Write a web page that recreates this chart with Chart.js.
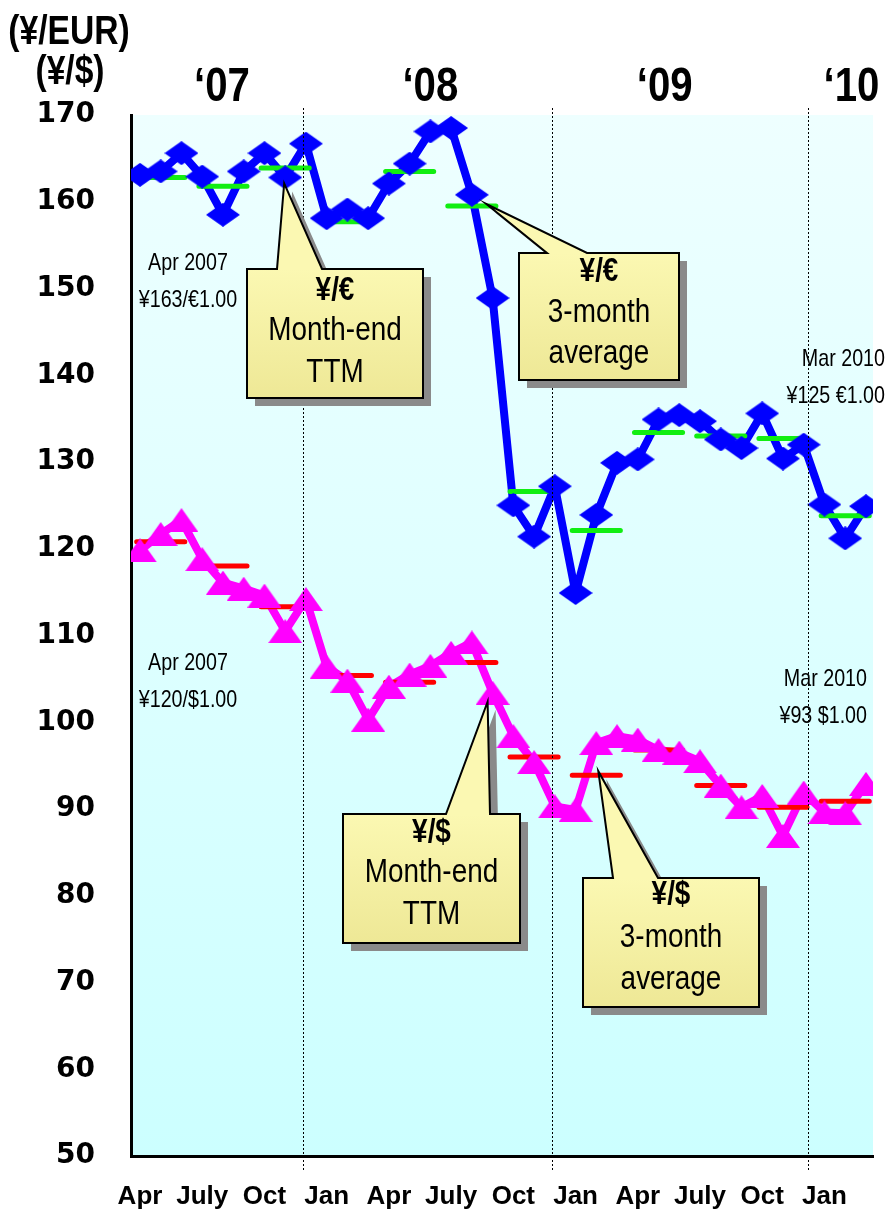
<!DOCTYPE html>
<html>
<head>
<meta charset="utf-8">
<script src="https://cdn.jsdelivr.net/npm/chart.js@4.4.1/dist/chart.umd.min.js"></script>
<style>
  html, body { margin: 0; padding: 0; background: #fff; }
  canvas { display: block; }
</style>
</head>
<body>
<canvas id="fxChart" width="889" height="1210"></canvas>
<script>
(() => {
  'use strict'

  // Month-end rates, Apr 2007 .. Mar 2010
  const months = [
    'Apr 2007', 'May 2007', 'Jun 2007', 'Jul 2007', 'Aug 2007', 'Sep 2007',
    'Oct 2007', 'Nov 2007', 'Dec 2007', 'Jan 2008', 'Feb 2008', 'Mar 2008',
    'Apr 2008', 'May 2008', 'Jun 2008', 'Jul 2008', 'Aug 2008', 'Sep 2008',
    'Oct 2008', 'Nov 2008', 'Dec 2008', 'Jan 2009', 'Feb 2009', 'Mar 2009',
    'Apr 2009', 'May 2009', 'Jun 2009', 'Jul 2009', 'Aug 2009', 'Sep 2009',
    'Oct 2009', 'Nov 2009', 'Dec 2009', 'Jan 2010', 'Feb 2010', 'Mar 2010'
  ]
  const eurMonthEnd = [
    163.1, 163.5, 165.6, 162.9, 158.5, 163.5, 165.6, 162.8, 166.7,
    158.1, 159.1, 158.1, 162.1, 164.4, 168.1, 168.5, 160.8, 148.9,
    125.0, 121.4, 127.2, 114.9, 123.9, 129.9, 130.3, 134.9, 135.4,
    134.7, 132.6, 131.6, 135.6, 130.4, 132.0, 125.1, 121.2, 124.9
  ]
  const usdMonthEnd = [
    119.8, 121.7, 123.3, 118.8, 116.1, 115.4, 114.6, 110.5, 114.2,
    106.4, 104.8, 100.3, 104.1, 105.5, 106.5, 108.0, 109.2, 103.4,
    98.4, 95.4, 90.3, 89.9, 97.6, 98.4, 98.0, 96.8, 96.5,
    95.5, 92.7, 90.2, 91.5, 86.9, 91.9, 89.6, 89.5, 92.9
  ]

  // 3-month averages, one per quarter (Apr-Jun 2007 .. Jan-Mar 2010)
  const quarters = [
    'Apr-Jun 07', 'Jul-Sep 07', 'Oct-Dec 07', 'Jan-Mar 08', 'Apr-Jun 08', 'Jul-Sep 08',
    'Oct-Dec 08', 'Jan-Mar 09', 'Apr-Jun 09', 'Jul-Sep 09', 'Oct-Dec 09', 'Jan-Mar 10'
  ]
  const eurQuarterAvg = [162.8, 161.8, 163.9, 157.7, 163.5, 159.5, 126.6, 122.1, 133.4, 133.0, 132.7, 123.8]
  const usdQuarterAvg = [120.8, 118.0, 113.3, 105.4, 104.6, 106.9, 96.0, 93.9, 96.8, 92.7, 90.2, 90.9]

  const tickLabels = ['Apr', 'July', 'Oct', 'Jan', 'Apr', 'July', 'Oct', 'Jan', 'Apr', 'July', 'Oct', 'Jan']
  const yearLabels = ['\u201807', '\u201808', '\u201809', '\u201810']

  const SANS = '"Liberation Sans", Arial, sans-serif'

  // no narrow face installed: squeeze Liberation Sans horizontally instead
  function narrowText(ctx, text, x, y, font, align) {
    ctx.save()
    ctx.font = font
    ctx.textAlign = align || 'center'
    ctx.textBaseline = 'middle'
    ctx.fillStyle = '#000'
    ctx.translate(x, y)
    ctx.scale(0.82, 1)
    ctx.fillText(text, 0, 0)
    ctx.restore()
  }

  // markers: flat diamond and triangle, as in the original
  function marker(w, h, color, kind) {
    const c = document.createElement('canvas')
    c.width = w
    c.height = h
    const g = c.getContext('2d')
    g.fillStyle = color
    g.beginPath()
    if (kind === 'diamond') {
      g.moveTo(w / 2, 0); g.lineTo(w, h / 2); g.lineTo(w / 2, h); g.lineTo(0, h / 2)
    } else {
      g.moveTo(w / 2, 0); g.lineTo(w, h); g.lineTo(0, h)
    }
    g.closePath()
    g.fill()
    return c
  }
  const diamond = marker(34, 24, '#0000ff', 'diamond')
  const triangle = marker(34, 24, '#ff00ff', 'triangle')

  const series = vals => months.map((m, i) => ({ x: i, y: vals[i] }))
  // each quarter's average is a short bar centred on its middle month
  const dashes = vals => quarters.flatMap((q, k) => [
    { x: 3 * k + 1 - 1.16, y: vals[k] },
    { x: 3 * k + 1 + 1.16, y: vals[k] },
    { x: 3 * k + 2.5, y: null }
  ])

  const lineSet = (data, color) => ({
    data, borderColor: color, borderWidth: 8, pointRadius: 0, borderJoinStyle: 'round', order: 3
  })
  const markSet = (data, style) => ({
    data, showLine: false, pointStyle: style, pointRadius: 12, order: 1
  })
  const dashSet = (data, color) => ({
    data, borderColor: color, borderWidth: 5, borderCapStyle: 'round', pointRadius: 0, spanGaps: false, order: 2
  })

  const yearBreaks = [7.85, 19.85, 32.2]
  const yearPos = [3.95, 14.0, 25.3, 34.3]

  const decorations = {
    id: 'decorations',
    beforeDraw(chart) {
      const { ctx, chartArea: a } = chart
      ctx.save()
      ctx.fillStyle = '#fff'
      ctx.fillRect(0, 0, chart.width, chart.height)
      const grad = ctx.createLinearGradient(0, a.top, 0, a.bottom)
      grad.addColorStop(0, '#eeffff')
      grad.addColorStop(1, '#ccffff')
      ctx.fillStyle = grad
      ctx.fillRect(a.left, a.top, a.right - a.left, a.bottom - a.top)
      ctx.restore()
    },
    afterDatasetsDraw(chart) {
      const { ctx, scales: { x } } = chart
      ctx.save()
      ctx.strokeStyle = '#000'
      ctx.lineWidth = 1
      ctx.setLineDash([2, 2])
      yearBreaks.forEach(b => {
        const px = Math.round(x.getPixelForValue(b)) + 0.5
        ctx.beginPath()
        ctx.moveTo(px, 108)
        ctx.lineTo(px, 1170)
        ctx.stroke()
      })
      ctx.restore()
    },
    afterDraw(chart) {
      const { ctx, scales: { x, y } } = chart

      // axis titles and year labels
      narrowText(ctx, '(\u00a5/EUR)', 69, 33, 'bold 41px ' + SANS)
      narrowText(ctx, '(\u00a5/$)', 70, 73, 'bold 41px ' + SANS)
      yearLabels.forEach((t, k) => narrowText(ctx, t, x.getPixelForValue(yearPos[k]), 87, 'bold 49px ' + SANS))

      // end-point notes
      const note = '24px ' + SANS
      narrowText(ctx, 'Apr 2007', 188, 263, note)
      narrowText(ctx, '\u00a5163/\u20ac1.00', 188, 300, note)
      narrowText(ctx, 'Apr 2007', 188, 663, note)
      narrowText(ctx, '\u00a5120/$1.00', 188, 700, note)
      narrowText(ctx, 'Mar 2010', 885, 359, note, 'right')
      narrowText(ctx, '\u00a5125 \u20ac1.00', 885, 396, note, 'right')
      narrowText(ctx, 'Mar 2010', 867, 679, note, 'right')
      narrowText(ctx, '\u00a593 $1.00', 867, 716, note, 'right')

      const pt = (i, v) => ({ x: x.getPixelForValue(i), y: y.getPixelForValue(v) })
      const callout = (box, base, tip, lines) => {
        const path = () => {
          ctx.beginPath()
          ctx.moveTo(box.l, box.t)
          ctx.lineTo(base[0], box.t)
          ctx.lineTo(tip.x, tip.y)
          ctx.lineTo(base[1], box.t)
          ctx.lineTo(box.r, box.t)
          ctx.lineTo(box.r, box.b)
          ctx.lineTo(box.l, box.b)
          ctx.closePath()
        }
        ctx.save()
        ctx.translate(8, 8)
        path()
        ctx.fillStyle = '#8a8a8a'
        ctx.fill()
        ctx.restore()

        ctx.save()
        path()
        const g = ctx.createLinearGradient(box.l, box.t, box.l, box.b)
        g.addColorStop(0, '#fbf8b2')
        g.addColorStop(1, '#eee896')
        ctx.fillStyle = g
        ctx.fill()
        ctx.lineWidth = 2
        ctx.strokeStyle = '#000'
        ctx.lineJoin = 'miter'
        ctx.stroke()
        ctx.restore()
        const cx = (box.l + box.r) / 2
        lines.forEach((ln, k) => {
          narrowText(ctx, ln[0], cx, ln[1], (k === 0 ? 'bold ' : '') + '34px ' + SANS)
        })
      }

      const eurTip = pt(7, eurMonthEnd[7])
      callout({ l: 247, t: 269, r: 423, b: 398 }, [277, 322], { x: eurTip.x - 1, y: eurTip.y + 6 },
        [['\u00a5/\u20ac', 291], ['Month-end', 331], ['TTM', 373]])

      const eurAvgTip = pt(16.7, eurQuarterAvg[5])
      callout({ l: 519, t: 253, r: 679, b: 380 }, [547, 587], { x: eurAvgTip.x, y: eurAvgTip.y - 2 },
        [['\u00a5/\u20ac', 272], ['3-month', 313], ['average', 354]])

      const usdTip = pt(17, usdMonthEnd[17])
      callout({ l: 343, t: 814, r: 520, b: 943 }, [446, 490], { x: usdTip.x - 5, y: usdTip.y + 9 },
        [['\u00a5/$', 833], ['Month-end', 873], ['TTM', 915]])

      const usdAvgTip = pt(22, usdQuarterAvg[7])
      callout({ l: 583, t: 878, r: 759, b: 1007 }, [613, 658], { x: usdAvgTip.x + 2, y: usdAvgTip.y - 4 },
        [['\u00a5/$', 895], ['3-month', 938], ['average', 980]])
    }
  }

  const ctx = document.getElementById('fxChart')
  // eslint-disable-next-line no-unused-vars
  const fxChart = new Chart(ctx, {
    type: 'line',
    data: {
      datasets: [
        lineSet(series(eurMonthEnd), '#0000ff'),
        lineSet(series(usdMonthEnd), '#ff00ff'),
        dashSet(dashes(eurQuarterAvg), '#11ee11'),
        dashSet(dashes(usdQuarterAvg), '#ff0000'),
        markSet(series(eurMonthEnd), diamond),
        markSet(series(usdMonthEnd), triangle)
      ]
    },
    options: {
      responsive: false,
      animation: false,
      devicePixelRatio: 1,
      elements: { line: { tension: 0 } },
      layout: { padding: { top: 115, right: 16, left: 0, bottom: 0 } },
      plugins: {
        legend: { display: false },
        tooltip: { enabled: false }
      },
      scales: {
        x: {
          type: 'linear',
          min: -0.434,
          max: 35.34,
          grid: { display: false, drawTicks: false },
          border: { display: true, width: 3, color: '#000' },
          afterBuildTicks: s => { s.ticks = tickLabels.map((t, k) => ({ value: k * 3 })) },
          afterFit: s => { s.height = 54 },
          ticks: {
            autoSkip: false,
            maxRotation: 0,
            padding: 25,
            color: '#000',
            font: { family: SANS, weight: 'bold', size: 26 },
            callback: v => tickLabels[Math.round(v / 3)]
          }
        },
        y: {
          min: 50,
          max: 170,
          grid: { display: false, drawTicks: false },
          border: { display: true, width: 3, color: '#000' },
          afterFit: s => { s.width = 131 },
          ticks: {
            stepSize: 10,
            padding: 36,
            color: '#000',
            font: { family: '"DejaVu Sans", Verdana, sans-serif', weight: 'bold', size: 28 }
          }
        }
      }
    },
    plugins: [decorations]
  })
})()
</script>
</body>
</html>
